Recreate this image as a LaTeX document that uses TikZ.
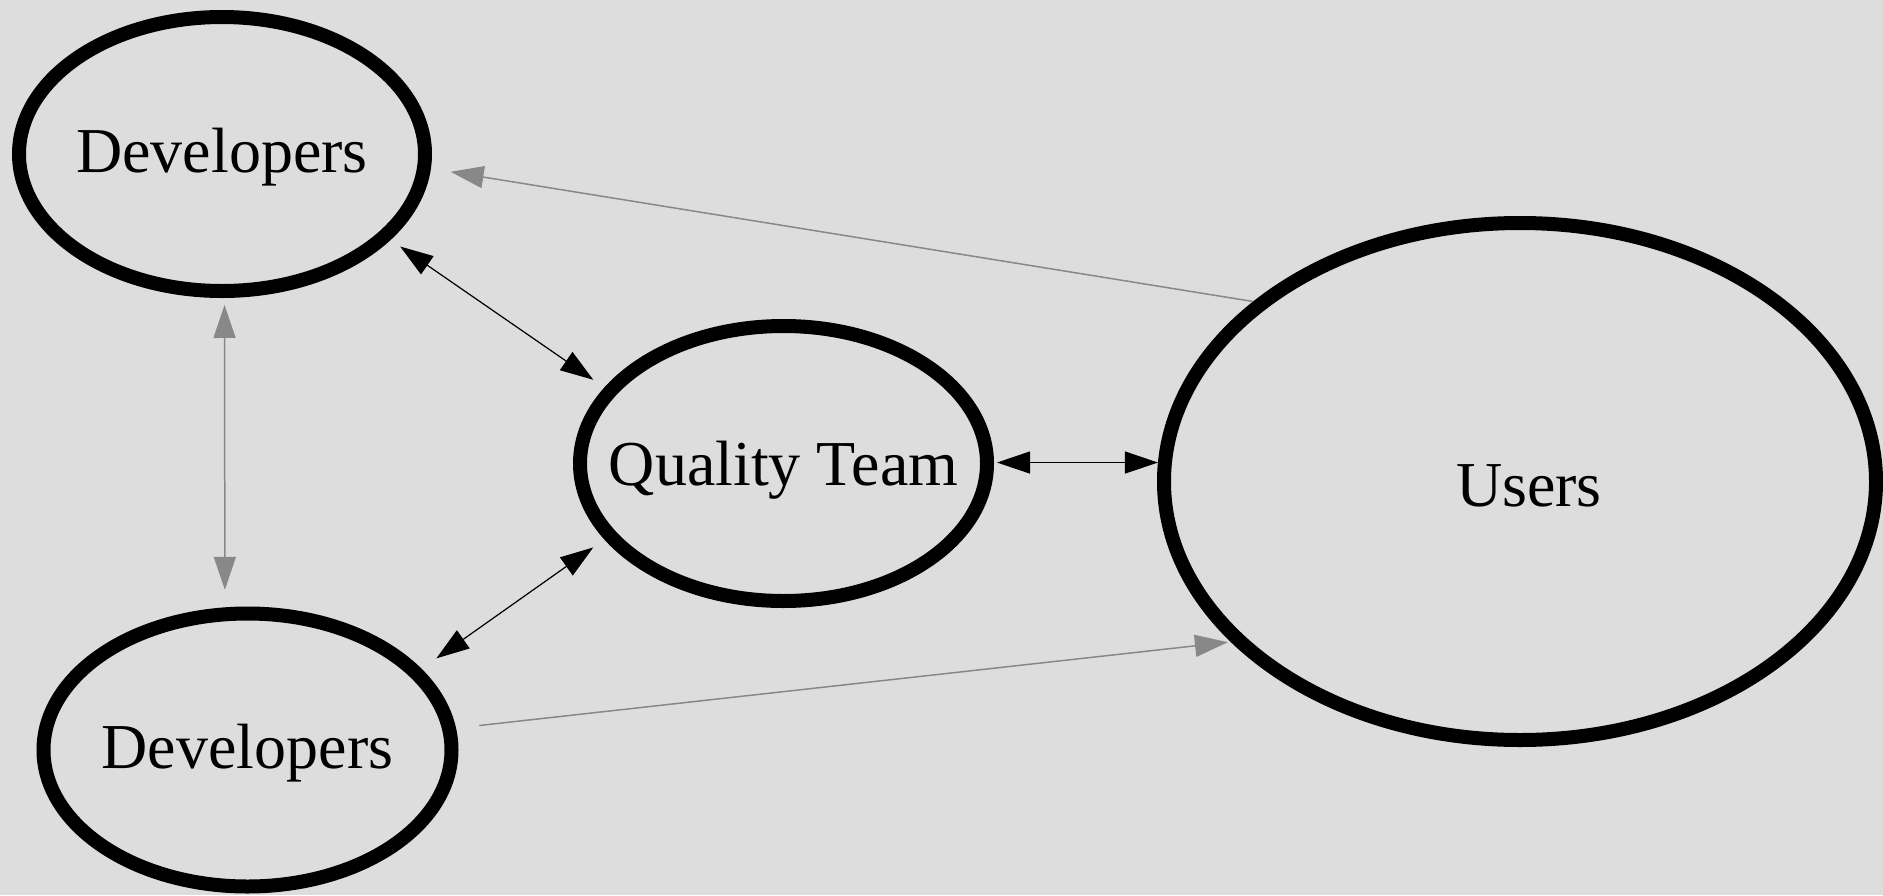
\documentclass[tikz,border=0pt]{standalone}
\usepackage{fontspec}
\setmainfont{Liberation Serif}
\usetikzlibrary{arrows.meta,shapes.geometric}
\definecolor{bgcol}{HTML}{DDDDDD}
\definecolor{edgegray}{HTML}{888888}
\begin{document}
\begin{tikzpicture}[x=1pt,y=1pt,
  actor/.style={ellipse, draw=black, line width=14pt, outer sep=7pt, inner sep=0pt,
    font=\fontsize{64}{70}\selectfont, text height=44pt, text depth=0pt},
  >={Triangle[length=33pt,width=22pt]},
  link/.style={line width=1.2pt, draw=black, fill=black},
  glink/.style={line width=1.5pt, draw=edgegray, fill=edgegray},
]
\useasboundingbox (0,0) rectangle (1883,-895);
\fill[bgcol] (0,0) rectangle (1883,-895);

\node[actor, text height=36pt, minimum width=406pt, minimum height=274pt] (d1) at (222,-154) {\makebox[0pt]{Developers}};
\node[actor, minimum width=407pt, minimum height=275pt] (qt) at (783.5,-463.5) {\makebox[0pt]{Quality Team}};
\node[actor, text height=36pt, minimum width=408pt, minimum height=273pt] (d2) at (247.5,-750) {\makebox[0pt]{Developers}};
\node[actor, text height=50pt, minimum width=712pt, minimum height=517pt] (u) at (1520,-481.5) {\makebox[0pt]{\hspace*{18pt}Users}};

\draw[glink, ->, shorten >=20pt] (u.146) -- (d1.-4);
\draw[link, <->, shorten <=11.7pt, shorten >=13.6pt] (d1.-27) -- (qt.157);
\draw[glink, <->, shorten <=7pt, shorten >=17.5pt] (d1.-89) -- (d2.99);
\draw[link, <->, shorten <=18.2pt, shorten >=13.7pt] (d2.25) -- (qt.-157);
\draw[link, <->, shorten <=3pt] (qt.east |- u.177) -- (u.177);
\draw[glink, ->, shorten <=23.4pt, shorten >=2.8pt] (d2.6) -- (u.-151);
\end{tikzpicture}
\end{document}
